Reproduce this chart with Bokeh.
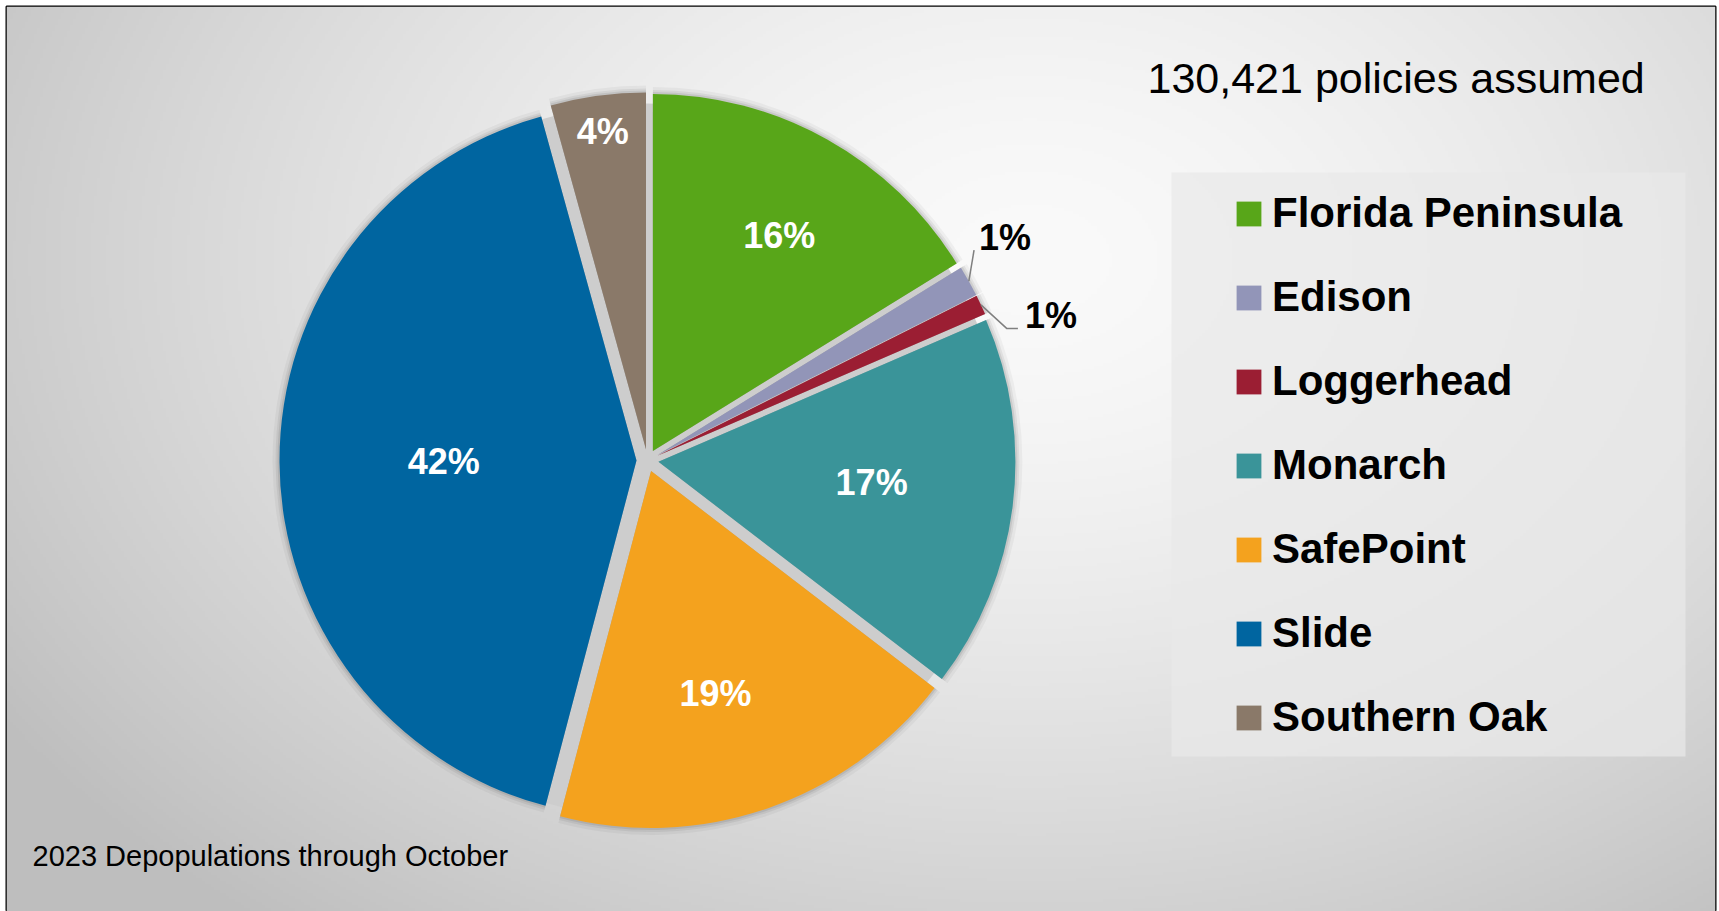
import numpy as np
from bokeh.plotting import figure
from bokeh.models import Range1d, Legend, LegendItem, Label, BoxAnnotation, ColumnDataSource
from bokeh.core.properties import value
from bokeh.embed import file_html
from bokeh.resources import INLINE

# ---------------- data ----------------
companies = ["Florida Peninsula", "Edison", "Loggerhead", "Monarch",
             "SafePoint", "Slide", "Southern Oak"]
shares = [16.2, 1.4, 0.9, 16.9, 18.7, 41.6, 4.3]
pct_labels = ["16%", "1%", "1%", "17%", "19%", "42%", "4%"]
colors = ["#58A619", "#9295B8", "#9B1E33", "#3A9499", "#F4A21E", "#0065A0", "#8A7969"]
total_text = "130,421 policies assumed"
footnote = "2023 Depopulations through October"

# ---------------- layout ----------------
PW, PH = 1719, 911
ML, MT, MR, MB = 6, 6, 4, 0
W, H = PW - ML - MR, PH - MT - MB
FONT = "Liberation Sans"


def dx(px):
    return px - ML


def dy(py):
    return PH - MB - py


CX, CY = dx(647), dy(460)  # pie centre
R = 357                    # pie radius (px)
EXPLODE = 11               # slice explosion (px)
label_frac = [0.70, 1.15, 1.17, 0.60, 0.65, 0.54, 0.90]
label_turn = [1.2, -2.9, 5.4, -1.5, 2.8, 0.0, 0.0]     # degrees clockwise
label_inside = [True, False, False, True, True, True, True]
# leader-line kinks relative to label centre (only for outside labels)
leader_kinks = {1: [(-31, -13)], 2: [(-44, -13), (-33, -13)]}

p = figure(width=PW, height=PH, x_range=Range1d(0, W), y_range=Range1d(0, H),
           output_backend="svg", toolbar_location=None,
           x_axis_type=None, y_axis_type=None,
           min_border_left=ML, min_border_top=MT, min_border_right=MR, min_border_bottom=MB)
p.grid.visible = False
p.outline_line_color = "black"
p.outline_line_width = 2
p.background_fill_color = "#e6e6e6"
p.border_fill_color = "white"

# ---------------- background radial gradient ----------------
SC = 3
rows, cols = H // SC + 1, W // SC + 1
yy, xx = np.mgrid[0:rows, 0:cols]
page_x = xx * SC + ML
page_y = PH - MB - yy * SC
d = np.sqrt(((page_x - 1030) / 1150.0) ** 2 + ((page_y - 260) / 800.0) ** 2)
g = np.clip(250 - 54 * d ** 1.5, 190, 255).astype(np.uint32)
img = (255 << 24) | (g << 16) | (g << 8) | g
p.image_rgba(image=[img.astype(np.uint32)], x=0, y=0, dw=W, dh=H)

# ---------------- pie geometry ----------------
tot = sum(shares)
cum = np.concatenate([[0], np.cumsum(shares)]) / tot
start = np.pi / 2 - 2 * np.pi * cum[:-1]
end = np.pi / 2 - 2 * np.pi * cum[1:]
mid = (start + end) / 2
wx = CX + EXPLODE * np.cos(mid)
wy = CY + EXPLODE * np.sin(mid)

src = ColumnDataSource(dict(x=wx, y=wy, start=start, end=end, color=colors, name=companies))

# gap / shadow
p.circle(x=[CX], y=[CY], radius=R, fill_color="#cdcdcd", line_color=None)
for extra, a in [(7, 0.04), (4, 0.06), (2, 0.08)]:
    p.wedge(x="x", y="y", radius=R + extra, start_angle="start", end_angle="end",
            direction="clock", fill_color="black", fill_alpha=a, line_color=None, source=src)

wr = p.wedge(x="x", y="y", radius=R, start_angle="start", end_angle="end",
             direction="clock", fill_color="color", line_color=None, source=src)

# ---------------- slice labels ----------------
phi = mid - np.radians(label_turn)
lx = wx + np.array(label_frac) * R * np.cos(phi)
ly = wy + np.array(label_frac) * R * np.sin(phi)
tcol = ["white" if ins else "black" for ins in label_inside]
p.text(x=lx, y=ly, text=pct_labels, text_color=tcol, text_font=value(FONT),
       text_font_size="36px", text_font_style="bold",
       text_align="center", text_baseline="middle")

xs, ys = [], []
for i, kinks in leader_kinks.items():
    x0 = wx[i] + R * np.cos(mid[i])
    y0 = wy[i] + R * np.sin(mid[i])
    xs.append([x0] + [lx[i] + k[0] for k in kinks])
    ys.append([y0] + [ly[i] + k[1] for k in kinks])
p.multi_line(xs=xs, ys=ys, line_color="#7f7f7f", line_width=1.5)

# ---------------- legend ----------------
box = BoxAnnotation(left=dx(1171), right=dx(1685), bottom=dy(756), top=dy(172),
                    fill_color="#e9e9e9", fill_alpha=0.72, line_color=None)
p.add_layout(box)

items = [LegendItem(label=c, renderers=[wr], index=i) for i, c in enumerate(companies)]
legend = Legend(items=items, location=(1227, 169), padding=20, spacing=34,
                label_height=50, glyph_width=31, glyph_height=31, label_standoff=8,
                label_text_font=FONT, label_text_font_size="42px",
                label_text_font_style="bold", label_text_color="black",
                background_fill_alpha=0, border_line_color=None, margin=0)
p.add_layout(legend)

# ---------------- texts ----------------
p.add_layout(Label(x=dx(1147), y=dy(77), text=total_text, text_font=FONT,
                   text_font_size="43px", text_baseline="middle", text_color="black"))
p.add_layout(Label(x=dx(32), y=dy(855), text=footnote, text_font=FONT,
                   text_font_size="29px", text_baseline="middle", text_color="black"))

open("out.html", "w").write(file_html(p, INLINE))
